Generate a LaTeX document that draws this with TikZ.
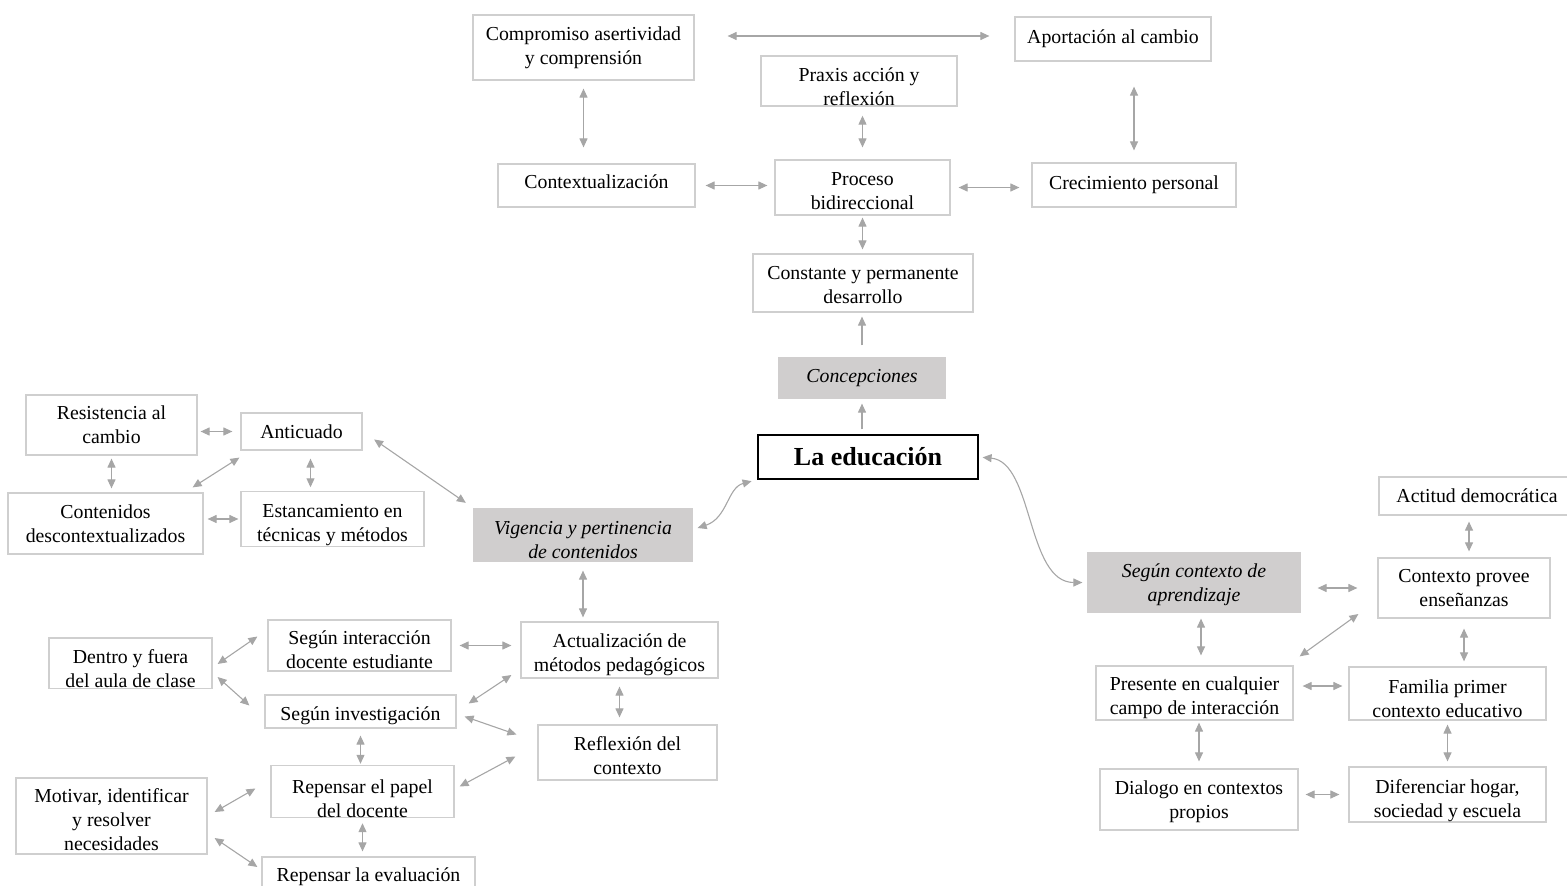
\documentclass[tikz,border=0pt]{standalone}
\usepackage{fontspec}
\setmainfont{Liberation Serif}
\usetikzlibrary{arrows.meta,calc}
\definecolor{linegray}{HTML}{A6A6A6}
\definecolor{framegray}{HTML}{CFCFCF}
\definecolor{shadegray}{HTML}{D0CECE}

\begin{document}
\begin{tikzpicture}[x=1pt,y=-1pt]
\tikzset{box/.style={draw=framegray, line width=1.2pt, fill=white, inner sep=0pt,
align=center, font=\fontsize{19.8}{24}\selectfont},
catbox/.style={box, draw=none, fill=shadegray,
font=\fontsize{19.8}{24}\selectfont\itshape},
mainbox/.style={box, draw=black, font=\fontsize{26}{30}\selectfont\bfseries},
sunk/.style={execute at begin node={\rule{0pt}{#1}}},
link/.style={{Triangle[length=9pt,width=8pt]}-{Triangle[length=9pt,width=8pt]},
draw=linegray, line width=1.1pt},
uplink/.style={link, -{Triangle[length=9pt,width=8pt]}},
}
\useasboundingbox (0,0) rectangle (1567,886);

\node[box, minimum width=221, minimum height=65] (comp) at (583.5,47.5) {Compromiso asertividad\\y comprensión};
\node[box, minimum width=196, minimum height=44] (aport) at (1113,39) {Aportación al cambio};
\node[box, sunk=50pt, minimum width=196, minimum height=50] (praxis) at (859,81) {Praxis acción y\\reflexión};
\node[box, text depth=7pt, minimum width=197, minimum height=43] (context) at (596.5,185.5) {Contextualización};
\node[box, sunk=45pt, minimum width=175, minimum height=55] (proceso) at (862.5,187.5) {Proceso\\bidireccional};
\node[box, minimum width=204, minimum height=44] (crec) at (1134,185) {Crecimiento personal};
\node[box, sunk=41pt, minimum width=220, minimum height=58] (const) at (863,283) {Constante y permanente\\desarrollo};
\node[catbox, minimum width=168, minimum height=42] (concep) at (862,378) {Concepciones};
\node[mainbox, minimum width=220, minimum height=44] (educ) at (868,457) {La educación};

\node[box, minimum width=171, minimum height=60] (resist) at (111.5,425) {Resistencia al\\cambio};
\node[box, minimum width=121, minimum height=37] (antic) at (301.5,431.5) {Anticuado};
\node[box, minimum width=195, minimum height=61] (contdes) at (105.5,523.5) {Contenidos\\descontextualizados};
\node[box, sunk=50pt, minimum width=183, minimum height=52] (estanc) at (332.5,519) {Estancamiento en\\técnicas y métodos};
\node[catbox, sunk=48pt, minimum width=220, minimum height=54] (vigen) at (583,535) {Vigencia y pertinencia\\de contenidos};
\node[box, sunk=48pt, minimum width=197, minimum height=56] (actual) at (619.5,650) {Actualización de\\métodos pedagógicos};
\node[box, sunk=47pt, minimum width=183, minimum height=51] (inter) at (359.5,645.5) {Según interacción\\docente estudiante};
\node[box, sunk=50pt, minimum width=163, minimum height=50] (dentro) at (130.5,663) {Dentro y fuera\\del aula de clase};
\node[box, sunk=22pt, minimum width=191, minimum height=33] (invest) at (360.5,711.5) {Según investigación};
\node[box, sunk=44pt, minimum width=179, minimum height=55] (reflex) at (627.5,752.5) {Reflexión del\\contexto};
\node[box, sunk=52pt, minimum width=183, minimum height=47] (repap) at (362.5,791.5) {Repensar el papel\\del docente};
\node[box, sunk=70pt, minimum width=191, minimum height=76] (motiv) at (111.5,816) {Motivar, identificar\\y resolver\\necesidades};
\node[box, minimum width=213, minimum height=40] (repev) at (368.5,877) {Repensar la evaluación};

\node[catbox, sunk=42pt, minimum width=214, minimum height=61] (segun) at (1194,582.5) {Según contexto de\\aprendizaje};
\node[box, minimum width=196, minimum height=38] (actit) at (1477,496) {Actitud democrática};
\node[box, minimum width=172, minimum height=60] (provee) at (1464,588) {Contexto provee\\enseñanzas};
\node[box, sunk=48pt, minimum width=197, minimum height=54] (presente) at (1194.5,693) {Presente en cualquier\\campo de interacción};
\node[box, sunk=48pt, minimum width=197, minimum height=53] (familia) at (1447.5,693.5) {Familia primer\\contexto educativo};
\node[box, sunk=42pt, minimum width=198, minimum height=61] (dialogo) at (1199,799.5) {Dialogo en contextos\\propios};
\node[box, sunk=50pt, minimum width=197, minimum height=55] (difer) at (1447.5,794.5) {Diferenciar hogar,\\sociedad y escuela};

\draw[link] ($(comp.east)+(33,-11.5)$) -- ($(aport.west)+(-25,-3)$);
\draw[link, shorten <=8pt, shorten >=16pt] (comp.south) -- (comp.south |- context.north);
\draw[link, shorten <=25pt, shorten >=12pt] (aport.south -| crec.north) -- (crec.north);
\draw[link, shorten <=9pt, shorten >=12pt] (praxis.south -| proceso.north) -- (proceso.north);
\draw[link, shorten <=10pt, shorten >=7pt] (context.east) -- (context.east -| proceso.west);
\draw[link, shorten <=8pt, shorten >=12pt] (proceso.east) -- (proceso.east -| crec.west);
\draw[link, shorten <=2pt, shorten >=4pt] (proceso.south) -- (proceso.south |- const.north);
\draw[uplink, shorten <=11pt, shorten >=4pt] (concep.north) -- (concep.north |- const.south);
\draw[uplink, shorten <=5pt, shorten >=4pt] (educ.north -| concep.south) -- (concep.south);
\draw[link, shorten >=6pt] ($(vigen.east)+(4,-7)$) .. controls +(30,-10) and +(-30,8) .. (educ.south west);
\draw[link, shorten <=4pt, shorten >=4pt] (educ.east) .. controls +(55,5) and +(-60,0) .. (segun.west);

\draw[link, shorten <=14pt, shorten >=8pt] (antic.east) -- (vigen.north west);
\draw[link, shorten <=3pt, shorten >=8pt] (resist.east |- antic.west) -- (antic.west);
\draw[link, shorten <=3pt, shorten >=4pt] (resist.south) -- (resist.south |- contdes.north);
\draw[link] ($(antic.south west)+(-1,7)$) -- ($(contdes.north east)+(-11,-5)$);
\draw[link] ($(antic.south)+(9,8)$) -- ($(estanc.north)+(-22,-4)$);
\draw[link, shorten <=4pt, shorten >=2pt] (contdes.east |- estanc.west) -- (estanc.west);
\draw[link, shorten <=8pt, shorten >=4pt] (vigen.south) -- (vigen.south |- actual.north);
\draw[link, shorten <=8pt, shorten >=9pt] (inter.east) -- (inter.east -| actual.west);
\draw[link] ($(dentro.east)+(5,1)$) -- ($(inter.west)+(-10,-9)$);
\draw[link] ($(dentro.east)+(5,14)$) -- ($(invest.west)+(-15,-6)$);
\draw[link] ($(invest.east)+(12,-8)$) -- ($(actual.west)+(-9,25)$);
\draw[link] ($(invest.east)+(8,5)$) -- ($(reflex.west)+(-21,-18)$);
\draw[link, shorten <=8pt, shorten >=7pt] (actual.south) -- (actual.south |- reflex.north);
\draw[link, shorten <=7pt, shorten >=1pt] (invest.south) -- (invest.south |- repap.north);
\draw[link] ($(repap.east)+(5,-5)$) -- ($(reflex.west)+(-22,4)$);
\draw[link] ($(motiv.east)+(7,-4)$) -- ($(repap.west)+(-15,-3)$);
\draw[link] ($(motiv.east)+(7,22)$) -- ($(repev.west)+(-4,-10)$);
\draw[link, shorten <=5pt, shorten >=5pt] (repap.south) -- (repap.south |- repev.north);

\draw[link, shorten <=16pt, shorten >=20pt] (provee.west -| segun.east) -- (provee.west);
\draw[link] ($(actit.south)+(-8,6)$) -- ($(provee.north)+(5,-6)$);
\draw[link] ($(segun.south)+(7,5)$) -- ($(presente.north)+(6.5,-10)$);
\draw[link] ($(presente.north east)+(6,-9)$) -- ($(provee.west)+(-19,26)$);
\draw[link, shorten <=10pt, shorten >=5pt] (provee.south) -- (provee.south |- familia.north);
\draw[link] ($(presente.east)+(9,-7)$) -- ($(familia.west)+(-6,-7.5)$);
\draw[link, shorten <=2pt, shorten >=7pt] (presente.south -| dialogo.north) -- (dialogo.north);
\draw[link, shorten <=4pt, shorten >=5pt] (familia.south) -- (difer.north);
\draw[link, shorten <=7pt, shorten >=9pt] (dialogo.east |- difer.west) -- (difer.west);
\end{tikzpicture}
\end{document}
